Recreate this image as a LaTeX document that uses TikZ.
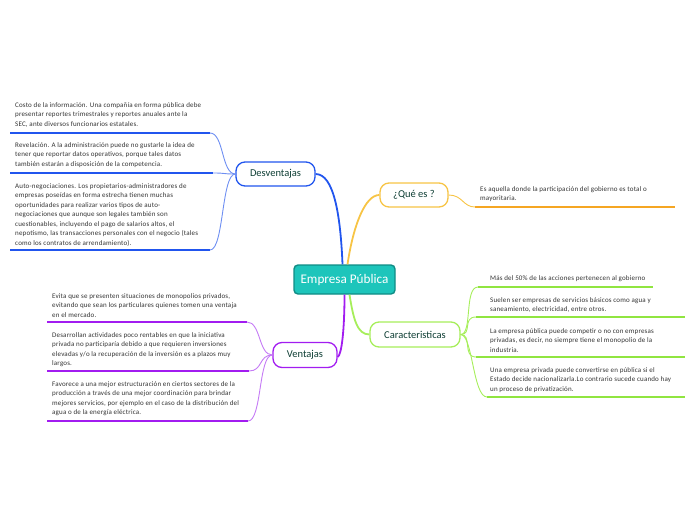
\documentclass[tikz,border=0pt]{standalone}
\usepackage{fontspec}
\setmainfont{Carlito}
\newfontfamily\leaffont[LetterSpace=2.5]{Carlito}
\definecolor{tealF}{HTML}{1DC5BB}
\definecolor{tealD}{HTML}{108C85}
\definecolor{blueB}{HTML}{2155EE}
\definecolor{blueL}{HTML}{6E8FF2}
\definecolor{orangeB}{HTML}{F7C445}
\definecolor{orangeU}{HTML}{F5A623}
\definecolor{greenB}{HTML}{A6EE5A}
\definecolor{greenU}{HTML}{90E540}
\definecolor{purpleB}{HTML}{A21CF0}
\definecolor{purpleL}{HTML}{C57BF5}
\definecolor{nodetext}{HTML}{0F3F35}
\definecolor{leaftext}{HTML}{333333}
\begin{document}
\begin{tikzpicture}[x=1pt,y=-1pt,
  central/.style={draw=tealD, fill=tealF, line width=1.4pt, rounded corners=4pt,
    minimum width=101pt, minimum height=29pt, inner sep=0pt, text=white,
    font=\fontsize{13.2}{15}\selectfont},
  branch/.style={draw, fill=white, rounded corners=9pt, line width=1.3pt,
    minimum height=24pt, inner sep=0pt, text=nodetext,
    font=\fontsize{10.5}{12}\selectfont},
  leaf/.style={anchor=north west, inner sep=0pt, align=left, text=leaftext,
    font=\leaffont\fontsize{7}{9.5}\selectfont},
  mainline/.style={line width=1.8pt},
  subline/.style={line width=0.9pt},
  underline/.style={line width=2pt},
]
\useasboundingbox (0,0) rectangle (696,520);

% central and branch nodes
\node[central] (center) at (344.5,279.5) {Empresa Pública};
\node[branch, draw=blueB, minimum width=79pt] (des) at (275.5,174) {Desventajas};
\node[branch, draw=orangeB, minimum width=68pt] (que) at (414,195) {¿Qué es ?};
\node[branch, draw=greenB, minimum width=90pt, minimum height=25pt] (car) at (415,334.5) {Caracteristicas};
\node[branch, draw=purpleB, minimum width=64pt, minimum height=25pt] (ven) at (305,355) {Ventajas};

% main connectors
\draw[mainline, blueB] ([xshift=-2pt]center.north) .. controls +(-2,-50) and +(18,0) .. (des.east);
\draw[mainline, orangeB] ([xshift=3pt]center.north) .. controls +(6,-40) and +(-14,0) .. (que.west);
\draw[mainline, purpleB] ([xshift=0pt]center.south) .. controls +(0,35) and +(4,-2) .. ([yshift=-2pt]ven.east);
\draw[mainline, greenB] ([xshift=5pt]center.south) .. controls +(4,25) and +(-12,0) .. (car.west);

% Desventajas leaves
\node[leaf] (d1) at (15,102) {Costo de la información. Una compañía en forma pública debe\\presentar reportes trimestrales y reportes anuales ante la\\SEC, ante diversos funcionarios estatales.};
\node[leaf] (d2) at (15,142) {Revelación. A la administración puede no gustarle la idea de\\tener que reportar datos operativos, porque tales datos\\también estarán a disposición de la competencia.};
\node[leaf] (d3) at (15,183) {Auto-negociaciones. Los propietarios-administradores de\\empresas poseídas en forma estrecha tienen muchas\\oportunidades para realizar varios tipos de auto-\\negociaciones que aunque son legales también son\\cuestionables, incluyendo el pago de salarios altos, el\\nepotismo, las transacciones personales con el negocio (tales\\como los contratos de arrendamiento).};
\coordinate (d1r) at (210,133); \coordinate (d1l) at (10,133);
\coordinate (d2r) at (213,173); \coordinate (d2l) at (10,173);
\coordinate (d3r) at (210,250); \coordinate (d3l) at (10,250);
\foreach \i in {1,2,3}{
  \draw[underline, blueB] (d\i l) -- (d\i r);
  \draw[subline, blueL] (des.west) .. controls +(-14,0) and +(14,0) .. (d\i r);
}

% Que es leaf
\node[leaf] (q1) at (480,186) {Es aquella donde la participación del gobierno es total o\\mayoritaria.};
\coordinate (q1l) at (475,207); \coordinate (q1r) at (675,207);
\draw[underline, orangeU] (q1l) -- (q1r);
\draw[subline, orangeB] (que.east) .. controls +(14,0) and +(-12,0) .. (q1l);

% Caracteristicas leaves
\node[leaf] (c1) at (490,275) {Más del 50\% de las acciones pertenecen al gobierno};
\node[leaf] (c2) at (490,297) {Suelen ser empresas de servicios básicos como agua y\\saneamiento, electricidad, entre otros.};
\node[leaf] (c3) at (490,328) {La empresa pública puede competir o no con empresas\\privadas, es decir, no siempre tiene el monopolio de la\\industria.};
\node[leaf] (c4) at (490,367) {Una empresa privada puede convertirse en pública si el\\Estado decide nacionalizarla.Lo contrario sucede cuando hay\\un proceso de privatización.};
\coordinate (c1l) at (478,287); \coordinate (c1r) at (653,287);
\coordinate (c2l) at (476,317); \coordinate (c2r) at (685,317);
\coordinate (c3l) at (476,357); \coordinate (c3r) at (685,357);
\coordinate (c4l) at (487,397); \coordinate (c4r) at (685,397);
\foreach \i in {1,2,3,4}{
  \draw[underline, greenU] (c\i l) -- (c\i r);
  \draw[subline, greenB] (car.east) .. controls +(12,0) and +(-14,0) .. (c\i l);
}

% Ventajas leaves
\node[leaf] (v1) at (52,293) {Evita que se presenten situaciones de monopolios privados,\\evitando que sean los particulares quienes tomen una ventaja\\en el mercado.};
\node[leaf] (v2) at (52,332) {Desarrollan actividades poco rentables en que la iniciativa\\privada no participaría debido a que requieren inversiones\\elevadas y/o la recuperación de la inversión es a plazos muy\\largos.};
\node[leaf] (v3) at (52,381) {Favorece a una mejor estructuración en ciertos sectores de la\\producción a través de una mejor coordinación para brindar\\mejores servicios, por ejemplo en el caso de la distribución del\\agua o de la energía eléctrica.};
\coordinate (v1r) at (247,322); \coordinate (v1l) at (47,322);
\coordinate (v2r) at (249,371); \coordinate (v2l) at (47,371);
\coordinate (v3r) at (248,421); \coordinate (v3l) at (47,421);
\foreach \i in {1,2,3}{
  \draw[underline, purpleB] (v\i l) -- (v\i r);
  \draw[subline, purpleL] (ven.west) .. controls +(-14,0) and +(14,0) .. (v\i r);
}
\end{tikzpicture}
\end{document}
